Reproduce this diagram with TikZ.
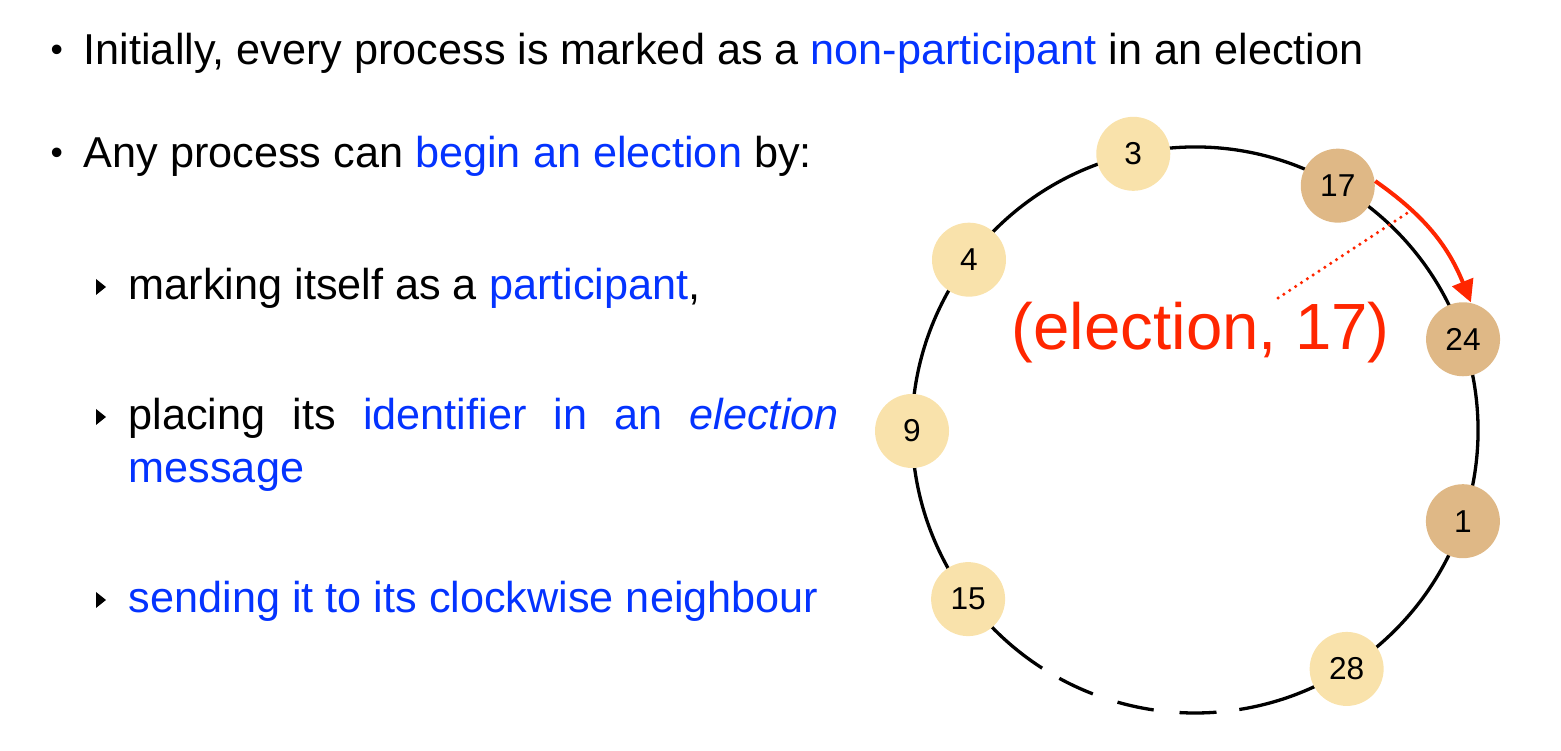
\documentclass[tikz,border=0pt]{standalone}
\usepackage{fontspec}
\setmainfont{Liberation Sans}
\usetikzlibrary{arrows.meta}
\definecolor{kblue}{HTML}{0433FF}
\definecolor{kred}{HTML}{FF2600}
\definecolor{idle}{HTML}{F9E2AB}
\definecolor{busy}{HTML}{DFB886}
\tikzset{
  proc/.style={circle,inner sep=0pt,minimum size=7.4mm,font=\fontsize{9}{10}\selectfont},
  idleproc/.style={proc,fill=idle},
  busyproc/.style={proc,fill=busy},
  txtline/.style={anchor=base west,inner sep=0pt,font=\fontsize{12.3}{14}\selectfont},
  dot/.style={anchor=base west,inner sep=0pt,font=\fontsize{10}{11}\selectfont},
  ring/.style={line width=0.33mm},
  subbullet/.style={fill=black},
}
\begin{document}
\begin{tikzpicture}[x=0.1mm,y=-0.1mm]
  \useasboundingbox (0,0) rectangle (1561,751);
  %testo
  \node[dot] (b1) at (50,62) {•};
  \node[txtline] (t1) at (83,65) {Initially, every process is marked as a \textcolor{kblue}{non-participant} in an election};
  \node[dot] (b2) at (50,165) {•};
  \node[txtline] (t2) at (83,168) {Any process can \textcolor{kblue}{begin an election} by:};
  \fill[subbullet] (96,279) -- (106,287) -- (96,295) -- cycle;
  \node[txtline] (t3) at (128,300) {marking itself as a \textcolor{kblue}{participant},};
  \fill[subbullet] (96,409) -- (106,417) -- (96,425) -- cycle;
  \node[txtline] (t4) at (128,430) {\makebox[71mm][s]{placing its \textcolor{kblue}{identifier in an \textit{election}}}};
  \node[txtline,text=kblue] (t5) at (128,483) {message};
  \fill[subbullet] (96,592) -- (106,600) -- (96,608) -- cycle;
  \node[txtline,text=kblue] (t6) at (128,613) {sending it to its clockwise neighbour};
  %anello
  \begin{scope}[shift={(1195,430)},yscale=-1]
    \draw[ring] (-81:283) arc[start angle=-81,end angle=237.3,radius=283];
    \draw[ring,dash pattern=on 3.7mm off 2.6mm,dash phase=4.3mm] (237.3:283) arc[start angle=237.3,end angle=279,radius=283];
    \foreach \ang/\id/\kind in {102.6/3/idleproc, 59.7/17/busyproc, 18.7/24/busyproc, -18.8/1/busyproc,
                                -57.6/28/idleproc, 216.7/15/idleproc, 180.2/9/idleproc, 143/4/idleproc}
      \node[\kind] (n\id) at (\ang:283) {\id};
  \end{scope}
  %messaggio
  \draw[kred,line width=0.4mm,-{Triangle[length=2.2mm,width=2.2mm]}] (n17.7) to[out=-35,in=112] (n24.78);
  \node[anchor=base west,inner sep=0pt,text=kred,font=\fontsize{18.6}{20}\selectfont] (msg) at (1011,350) {(election, 17)};
  \coordinate (ptr) at (1412,210);
  \coordinate (msgtop) at (1278,298);
  \draw[kred,line width=0.35mm,line cap=round,dash pattern=on 0mm off 0.7mm] (msgtop) -- (ptr);
\end{tikzpicture}
\end{document}
